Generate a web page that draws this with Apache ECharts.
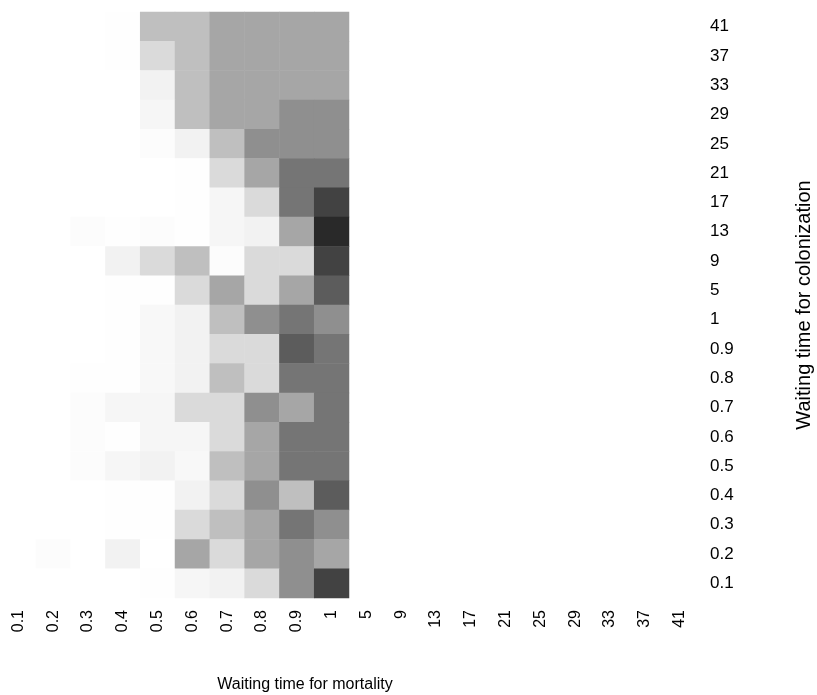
<!DOCTYPE html>
<html>
<head>
<meta charset="utf-8">
<title>heatmap</title>
<script src="https://cdn.jsdelivr.net/npm/echarts@6/dist/echarts.min.js"></script>
<style>
  html, body { margin: 0; padding: 0; background: #fff; }
  #main { width: 817px; height: 695px; }
</style>
</head>
<body>
<div id="main"></div>
<script>
// x: waiting time for mortality, y: waiting time for colonization
const xLabels = ['0.1', '0.2', '0.3', '0.4', '0.5', '0.6', '0.7', '0.8', '0.9', '1',
                 '5', '9', '13', '17', '21', '25', '29', '33', '37', '41']
const yLabels = ['0.1', '0.2', '0.3', '0.4', '0.5', '0.6', '0.7', '0.8', '0.9', '1',
                 '5', '9', '13', '17', '21', '25', '29', '33', '37', '41']

// darkness of each cell (0 = white, 1 = black)
// one row per colonization time, top row (41) first, columns 0.1 .. 1 of mortality
const rows = [
  [0, 0, 0, 0.005, 0.25, 0.25, 0.35, 0.35, 0.35, 0.35],       // 41
  [0, 0, 0, 0.005, 0.145, 0.25, 0.35, 0.35, 0.35, 0.35],      // 37
  [0, 0, 0, 0, 0.05, 0.25, 0.35, 0.35, 0.35, 0.35],           // 33
  [0, 0, 0, 0, 0.035, 0.25, 0.35, 0.35, 0.44, 0.44],          // 29
  [0, 0, 0, 0, 0.01, 0.05, 0.25, 0.44, 0.44, 0.44],           // 25
  [0, 0, 0, 0, 0, 0.005, 0.145, 0.35, 0.54, 0.54],            // 21
  [0, 0, 0, 0, 0, 0.005, 0.035, 0.145, 0.54, 0.74],           // 17
  [0, 0, 0.01, 0.005, 0.012, 0.005, 0.035, 0.05, 0.35, 0.84], // 13
  [0, 0, 0, 0.05, 0.145, 0.25, 0.01, 0.145, 0.145, 0.74],     // 9
  [0, 0, 0, 0.005, 0.005, 0.145, 0.35, 0.145, 0.35, 0.64],    // 5
  [0, 0, 0, 0.005, 0.027, 0.05, 0.25, 0.44, 0.54, 0.44],      // 1
  [0, 0, 0, 0.005, 0.027, 0.05, 0.145, 0.145, 0.64, 0.54],    // 0.9
  [0, 0, 0.005, 0.005, 0.027, 0.05, 0.25, 0.145, 0.54, 0.54], // 0.8
  [0, 0, 0.01, 0.035, 0.035, 0.145, 0.145, 0.44, 0.35, 0.54], // 0.7
  [0, 0, 0.01, 0.005, 0.035, 0.035, 0.145, 0.35, 0.54, 0.54], // 0.6
  [0, 0, 0.01, 0.035, 0.05, 0.027, 0.25, 0.35, 0.54, 0.54],   // 0.5
  [0, 0, 0, 0.005, 0.005, 0.05, 0.145, 0.44, 0.25, 0.64],     // 0.4
  [0, 0, 0, 0.005, 0.005, 0.145, 0.25, 0.35, 0.54, 0.44],     // 0.3
  [0, 0.01, 0, 0.05, 0, 0.35, 0.145, 0.35, 0.44, 0.35],       // 0.2
  [0, 0, 0, 0, 0.005, 0.035, 0.05, 0.145, 0.44, 0.74]         // 0.1
]

// [xIndex, yIndex, value] for the heatmap
const cells = []
for (var r = 0; r < rows.length; r++) {
  const yi = yLabels.length - 1 - r
  for (var c = 0; c < rows[r].length; c++) {
    cells.push([c, yi, rows[r][c]])
  }
}

const chart = echarts.init(document.getElementById('main'), null, { renderer: 'canvas' })
const option = {
  backgroundColor: '#ffffff',
  animation: false,
  grid: {
    left: 1,
    right: 120,
    top: 12,
    bottom: 97,
    containLabel: false,
    outerBoundsMode: 'none'
  },
  xAxis: {
    type: 'category',
    data: xLabels,
    name: 'Waiting time for mortality',
    nameLocation: 'middle',
    nameGap: 79,
    nameTextStyle: {
      fontFamily: 'Liberation Sans',
      fontSize: 16,
      color: '#000',
      padding: [0, 88, 0, 0]
    },
    axisLine: { show: false },
    axisTick: { show: false },
    splitLine: { show: false },
    axisLabel: {
      rotate: 90,
      margin: 12,
      interval: 0,
      fontFamily: 'Liberation Sans',
      fontSize: 16,
      color: '#000',
      padding: [8, 0, 0, 0]
    }
  },
  yAxis: {
    type: 'category',
    data: yLabels,
    position: 'right',
    name: 'Waiting time for colonization',
    nameLocation: 'middle',
    nameRotate: 90,
    nameGap: 97,
    nameTextStyle: {
      fontFamily: 'Liberation Sans',
      fontSize: 20,
      color: '#000'
    },
    axisLine: { show: false },
    axisTick: { show: false },
    splitLine: { show: false },
    axisLabel: {
      margin: 13,
      interval: 0,
      fontFamily: 'Liberation Sans',
      fontSize: 17,
      color: '#000',
      padding: [5, 0, 0, 0]
    }
  },
  visualMap: {
    show: false,
    type: 'continuous',
    min: 0,
    max: 1,
    calculable: false,
    inRange: { color: ['#ffffff', '#000000'] }
  },
  series: [
    {
      type: 'heatmap',
      data: cells,
      itemStyle: { borderWidth: 0 },
      emphasis: { disabled: true }
    }
  ]
}
chart.setOption(option)
</script>
</body>
</html>
